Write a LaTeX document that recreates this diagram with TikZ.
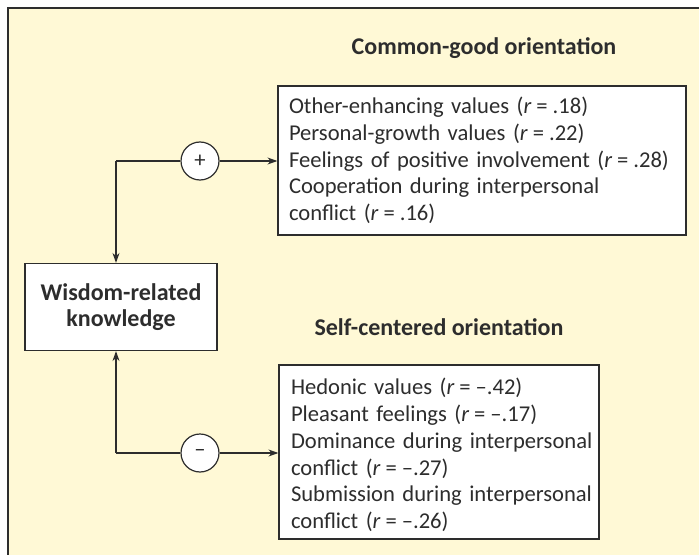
\documentclass[tikz,border=0pt]{standalone}
\usepackage{fontspec}
\setmainfont{Carlito}
\usetikzlibrary{arrows.meta}
\definecolor{bgyel}{RGB}{255,249,214}
\definecolor{ink}{RGB}{45,45,45}
\newcommand{\boxline}[1]{\mbox{#1}}
\newcommand{\req}[1]{(\textit{r}\kern0.22em=\kern0.22em#1)}
\begin{document}
\begin{tikzpicture}[x=1bp,y=-1bp,
  every node/.style={font=\fontsize{22.6bp}{26.8bp}\selectfont, text=ink},
  box/.style={draw=ink, line width=1.2bp, fill=white, inner ysep=0bp, align=left},
  sign/.style={draw=ink, line width=1.2bp, fill=white, circle, minimum size=38bp, inner sep=0bp},
  conn/.style={draw=ink, line width=1.2bp},
  arr/.style={conn, -{Stealth[length=10bp,width=7bp]}},
  title/.style={font=\fontsize{24bp}{26.6bp}\selectfont\bfseries}]
\useasboundingbox (0,0) rectangle (699,555);
\fill[white] (0,0) rectangle (699,555);
\fill[bgyel] (8,8) rectangle (699,555);
\draw[ink, line width=1.5bp] (8,555) -- (8,8) -- (699,8);

\node[box, align=center, minimum width=192bp, minimum height=87bp, font=\fontsize{24bp}{25.5bp}\selectfont\bfseries] (wis) at (121,307) {Wisdom-related\\knowledge};

\node[box, text width=386bp, inner xsep=11bp, minimum height=149bp] (top) at (482,160.5)
  {\boxline{Other-enhancing values \req{.18}}\\
   \boxline{Personal-growth values \req{.22}}\\
   \boxline{Feelings of positive involvement \req{.28}}\\
   \boxline{Cooperation during interpersonal}\\
   \boxline{conflict \req{.16}}};

\node[box, text width=296bp, inner xsep=12bp, minimum height=174bp, text depth=131bp] (bot) at (439,452)
  {\boxline{Hedonic values \req{–.42}}\\
   \boxline{Pleasant feelings \req{–.17}}\\
   \boxline{Dominance during interpersonal}\\
   \boxline{conflict \req{–.27}}\\
   \boxline{Submission during interpersonal}\\
   \boxline{conflict \req{–.26}}};

\node[title, anchor=base] (t1) at (484,55) {Common-good orientation};
\node[title, anchor=base] (t2) at (439,335) {Self-centered orientation};

\node[sign] (plus) at (200,161) {+};
\node[sign] (minus) at (200,453) {–};
\coordinate (c1) at (116,161);
\coordinate (c2) at (116,453);

\draw[arr] (plus) -- (plus -| top.west);
\draw[conn] (plus) -- (c1);
\draw[arr] (c1) -- (c1 |- wis.north);
\draw[arr] (minus) -- (minus -| bot.west);
\draw[conn] (minus) -- (c2);
\draw[arr] (c2) -- (c2 |- wis.south);
\end{tikzpicture}
\end{document}
